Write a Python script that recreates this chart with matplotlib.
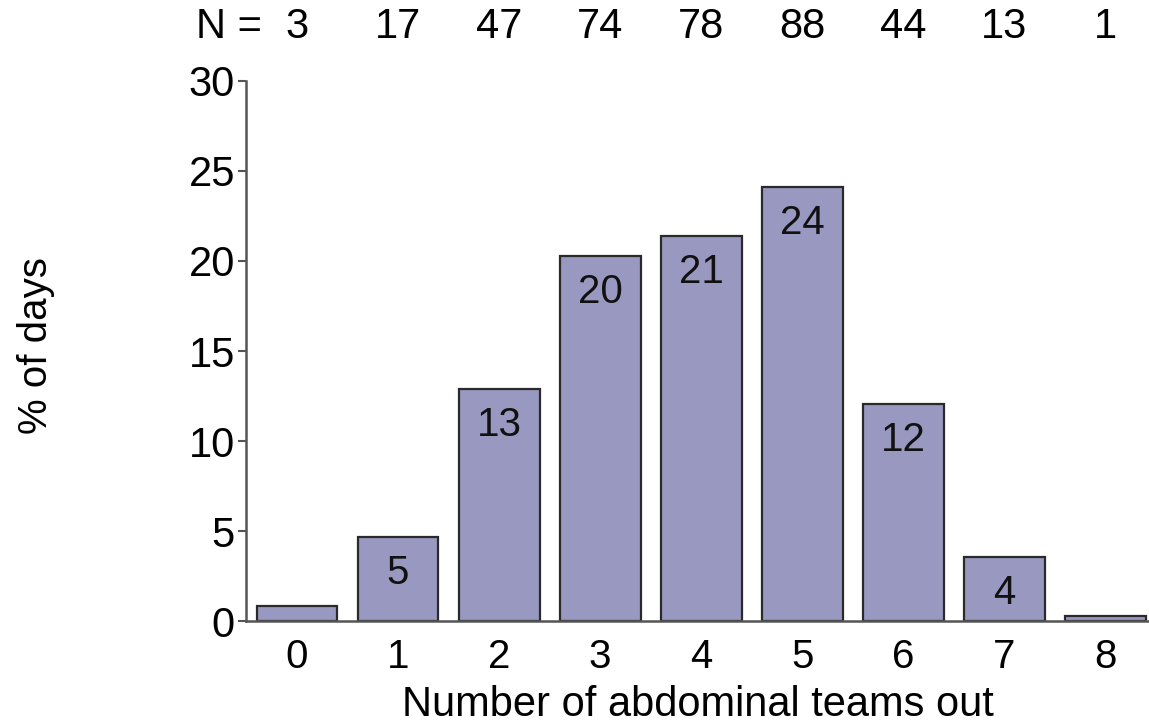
import numpy as np
import matplotlib.pyplot as plt

# data
teams = [0, 1, 2, 3, 4, 5, 6, 7, 8]
pct_days = [0.82, 4.66, 12.88, 20.27, 21.37, 24.11, 12.05, 3.56, 0.27]
n_days = [3, 17, 47, 74, 78, 88, 44, 13, 1]
bar_labels = ['', '5', '13', '20', '21', '24', '12', '4', '']

plt.rcParams['font.family'] = ['Liberation Sans', 'DejaVu Sans']

fig = plt.figure(figsize=(11.49, 7.25), dpi=100)
ax = fig.add_axes([0.2141, 0.1434, 0.7859, 0.7449])

bars = ax.bar(teams, pct_days, width=0.8, color='#9898c0',
              edgecolor='#2a2a2a', linewidth=1.6, zorder=2)

# value labels inside the bars, near the top
for b, lab in zip(bars, bar_labels):
    if lab:
        ax.annotate(lab, (b.get_x() + b.get_width() / 2, b.get_height()),
                    xytext=(0, -36), textcoords='offset pixels',
                    ha='center', va='center', fontsize=29, color='#111111')

# N counts above the plot
for x, n in zip(teams, n_days):
    ax.text(x, 1.1, str(n), transform=ax.get_xaxis_transform(),
            ha='center', va='center', fontsize=30)
ax.text(-0.35, 1.1, 'N =', transform=ax.get_xaxis_transform(),
        ha='right', va='center', fontsize=30)

ax.set_xlim(-0.504, 8.43)
ax.set_ylim(0, 30)
ax.set_yticks([0, 5, 10, 15, 20, 25, 30])
ax.set_xticks(teams)

ax.spines['top'].set_visible(False)
ax.spines['right'].set_visible(False)
for s in ['left', 'bottom']:
    ax.spines[s].set_color('#555555')
    ax.spines[s].set_linewidth(1.8)

ax.tick_params(axis='y', length=6, width=1.5, color='#555555', labelsize=30, pad=2)
ax.tick_params(axis='x', length=0, labelsize=29, pad=12)

ax.set_xlabel('Number of abdominal teams out', fontsize=30, labelpad=7)
fig.text(0.031, 0.524, '% of days', rotation=90, ha='center', va='center', fontsize=29)

fig.savefig('out.png', dpi=100)
